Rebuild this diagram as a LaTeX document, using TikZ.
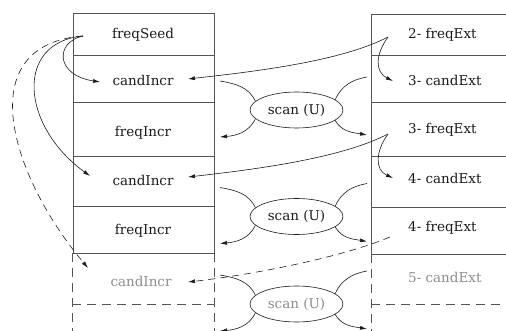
\documentclass[tikz,border=0pt]{standalone}
\usepackage{fontspec}
\setmainfont{DejaVu Serif}
\usetikzlibrary{arrows.meta,shapes.geometric}
\definecolor{ink}{HTML}{1A1A1A}
\definecolor{linegray}{HTML}{555555}
\definecolor{ghostgray}{HTML}{8C8C8C}
\begin{document}
\begin{tikzpicture}[x=1pt,y=1pt,
  cell/.style={draw=linegray,line width=0.7pt},
  celldash/.style={cell,dash pattern=on 9pt off 6pt},
  lbl/.style={font=\fontsize{13.5}{15}\selectfont,text=ink,inner sep=0pt},
  ghost/.style={lbl,text=ghostgray},
  scanbox/.style={ellipse,draw=ink,line width=0.6pt,minimum width=93pt,minimum height=36pt,inner sep=0pt,font=\fontsize{13.5}{15}\selectfont,text=ink},
  link/.style={draw=ink,line width=0.6pt},
  arr/.style={link,-{Latex[length=7pt,width=4pt]}},
  dasharr/.style={arr,dash pattern=on 7pt off 5pt},
]
\useasboundingbox (0,0) rectangle (506,-331);
% left column
\draw[cell] (73,-13) rectangle (214,-253);
\foreach \yy in {55,102,156,206} \draw[cell] (73,-\yy) -- (214,-\yy);
\draw[celldash] (72,-253) -- (72,-331);
\draw[celldash] (214,-253) -- (214,-331);
\draw[celldash] (72,-304) -- (214,-304);
% right column
\draw[cell] (506,-14) -- (371,-14) -- (371,-254);
\foreach \yy in {55,102,156,207,254} \draw[cell] (371,-\yy) -- (506,-\yy);
\draw[celldash] (371,-254) -- (371,-331);
\draw[celldash] (371,-304) -- (506,-304);
% left labels
\node[lbl] (fs)  at (143,-35)  {freqSeed};
\node[lbl] (ci1) at (143,-80)  {candIncr};
\node[lbl] (fi1) at (143,-133) {freqIncr};
\node[lbl] (ci2) at (143,-180) {candIncr};
\node[lbl] (fi2) at (143,-231) {freqIncr};
\node[ghost] (ci3) at (141,-281) {candIncr};
% right labels
\node[lbl,anchor=west] (fe2) at (408,-35)  {2- freqExt};
\node[lbl,anchor=west] (ce3) at (408,-80)  {3- candExt};
\node[lbl,anchor=west] (fe3) at (408,-130) {3- freqExt};
\node[lbl,anchor=west] (ce4) at (408,-178) {4- candExt};
\node[lbl,anchor=west] (fe4) at (408,-228) {4- freqExt};
\node[ghost,anchor=west] (ce5) at (408,-277) {5- candExt};
% scans
\node[scanbox] (e1) at (296.5,-110) {scan (U)};
\node[scanbox] (e2) at (296.5,-216.5) {scan (U)};
\node[scanbox,text=ghostgray] (e3) at (296.5,-304) {scan (U)};
% connector end points
\foreach \e/\cy in {1/110,2/216.5,3/304}{
  \coordinate (ul\e) at (220,-\cy+29);
  \coordinate (ur\e) at (367,-\cy+33);
  \coordinate (ll\e) at (220,-\cy-27);
  \coordinate (lr\e) at (367,-\cy-25);
}
\foreach \e in {1,2,3}{
  \draw[link] (ul\e) to[out=-10,in=115] (e\e.168);
  \draw[link] (ur\e) to[out=190,in=65] (e\e.15);
  \draw[arr] (e\e.192) to[out=-115,in=5] (ll\e);
  \draw[arr] (e\e.-15) to[out=-60,in=170] (lr\e);
}
% sources and tips
\coordinate (fsout) at (83,-36);
\coordinate (ci1tip) at (100,-82);
\coordinate (ci2tip) at (90,-176);
\coordinate (ci3tip) at (88,-268);
\coordinate (fe2out) at (388,-37);
\coordinate (fe3out) at (388,-134);
\coordinate (fe4out) at (390,-237);
\coordinate (ci1rt) at (188,-79);
\coordinate (ci2rt) at (188,-177);
\coordinate (ci3rt) at (188,-282);
\coordinate (ce3tip) at (393,-81);
\coordinate (ce4tip) at (393,-178);
% left fan from freqSeed
\draw[arr] (fsout) .. controls (55,-42) and (55,-75) .. (ci1tip);
\draw[arr] (fsout) .. controls (15,-42) and (20,-125) .. (ci2tip);
\draw[dasharr] (fsout) .. controls (-30,-45) and (10,-175) .. (ci3tip);
% right to left
\draw[arr] (fe2out) .. controls (340,-62) and (250,-72) .. (ci1rt);
\draw[arr] (fe2out) .. controls (375,-55) and (375,-72) .. (ce3tip);
\draw[arr] (fe3out) .. controls (340,-159) and (250,-170) .. (ci2rt);
\draw[arr] (fe3out) .. controls (375,-152) and (375,-170) .. (ce4tip);
\draw[dasharr] (fe4out) .. controls (340,-258) and (250,-275) .. (ci3rt);
\end{tikzpicture}
\end{document}
